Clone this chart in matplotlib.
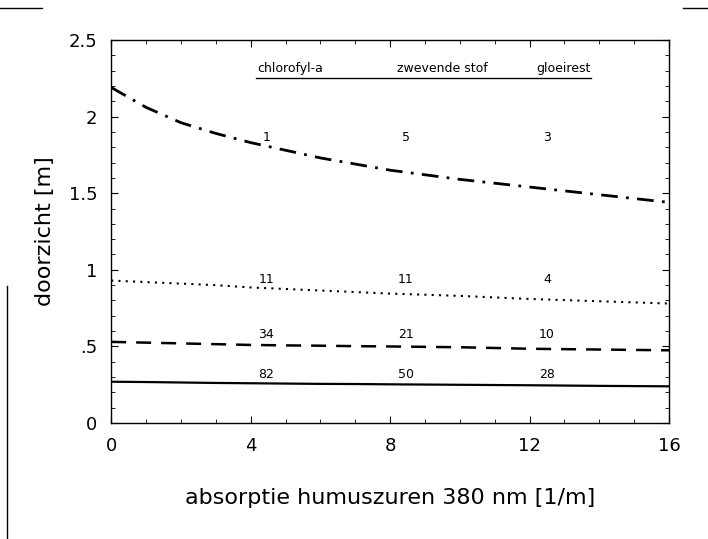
import matplotlib
matplotlib.use("Agg")
import matplotlib.pyplot as plt
from matplotlib.lines import Line2D
from matplotlib.ticker import MultipleLocator, FixedLocator

# humic-acid absorption [1/m]
absorptie = [0, 1, 2, 3, 4, 5, 6, 7, 8, 10, 12, 14, 16]

# visibility depth [m] for four cases
curve_dashdot = [2.19, 2.06, 1.96, 1.89, 1.83, 1.78, 1.73, 1.69, 1.65, 1.59, 1.54, 1.49, 1.44]
curve_dotted = [0.93, 0.92, 0.91, 0.90, 0.885, 0.875, 0.865, 0.855, 0.845, 0.83, 0.81, 0.795, 0.78]
curve_dashed = [0.53, 0.525, 0.52, 0.515, 0.51, 0.507, 0.505, 0.502, 0.50, 0.495, 0.485, 0.48, 0.475]
curve_solid = [0.27, 0.268, 0.265, 0.262, 0.26, 0.258, 0.256, 0.255, 0.253, 0.25, 0.247, 0.243, 0.24]

# column headers and the numbers written next to each curve
headers = ["chlorofyl-a", "zwevende stof", "gloeirest"]
header_x = [4.2, 8.2, 12.2]
label_x = [4.45, 8.45, 12.5]
labels_dashdot = ["1", "5", "3"]
labels_dotted = ["11", "11", "4"]
labels_dashed = ["34", "21", "10"]
labels_solid = ["82", "50", "28"]
label_y = [1.86, 0.935, 0.575, 0.32]

yticks = [0, 0.5, 1, 1.5, 2, 2.5]
ytick_labels = ["0", ".5", "1", "1.5", "2", "2.5"]
xticks = [0, 4, 8, 12, 16]

fig = plt.figure(figsize=(7.08, 5.39), dpi=100)
ax = fig.add_axes([0.157, 0.215, 0.788, 0.711])

ax.plot(absorptie, curve_dashdot, color="black", lw=2.0, linestyle=(0, (6, 3, 1, 3)))
ax.plot(absorptie, curve_dotted, color="black", lw=1.5, linestyle=(0, (1, 2.5)))
ax.plot(absorptie, curve_dashed, color="black", lw=1.8, linestyle=(0, (6, 4)))
ax.plot(absorptie, curve_solid, color="black", lw=1.6)

for row, yy in zip([labels_dashdot, labels_dotted, labels_dashed, labels_solid], label_y):
    for xx, txt in zip(label_x, row):
        ax.text(xx, yy, txt, ha="center", va="center", fontsize=9)

for xx, txt in zip(header_x, headers):
    ax.text(xx, 2.27, txt, ha="left", va="bottom", fontsize=9)
ax.plot([header_x[0] - 0.05, 13.75], [2.25, 2.25], color="black", lw=1.0)

ax.set_xlim(0, 16)
ax.set_ylim(0, 2.5)
ax.xaxis.set_major_locator(FixedLocator(xticks))
ax.xaxis.set_minor_locator(MultipleLocator(1))
ax.yaxis.set_major_locator(FixedLocator(yticks))
ax.yaxis.set_minor_locator(MultipleLocator(0.1))
ax.set_yticklabels(ytick_labels)
ax.tick_params(which="both", direction="in", top=True, right=True, labelsize=13, pad=10)
ax.tick_params(which="major", length=5)
ax.tick_params(which="minor", length=3)
for sp in ax.spines.values():
    sp.set_linewidth(1.0)

ax.set_xlabel("absorptie humuszuren 380 nm [1/m]", fontsize=16, labelpad=24)
ax.set_ylabel("doorzicht [m]", fontsize=16, labelpad=10)

# scan border remnants
fig.add_artist(Line2D([0.0, 0.06], [0.985, 0.985], color="black", lw=1.0))
fig.add_artist(Line2D([0.965, 1.0], [0.985, 0.985], color="black", lw=1.0))
fig.add_artist(Line2D([0.01, 0.01], [0.0, 0.47], color="black", lw=1.0))

fig.savefig("out.png", dpi=100)
